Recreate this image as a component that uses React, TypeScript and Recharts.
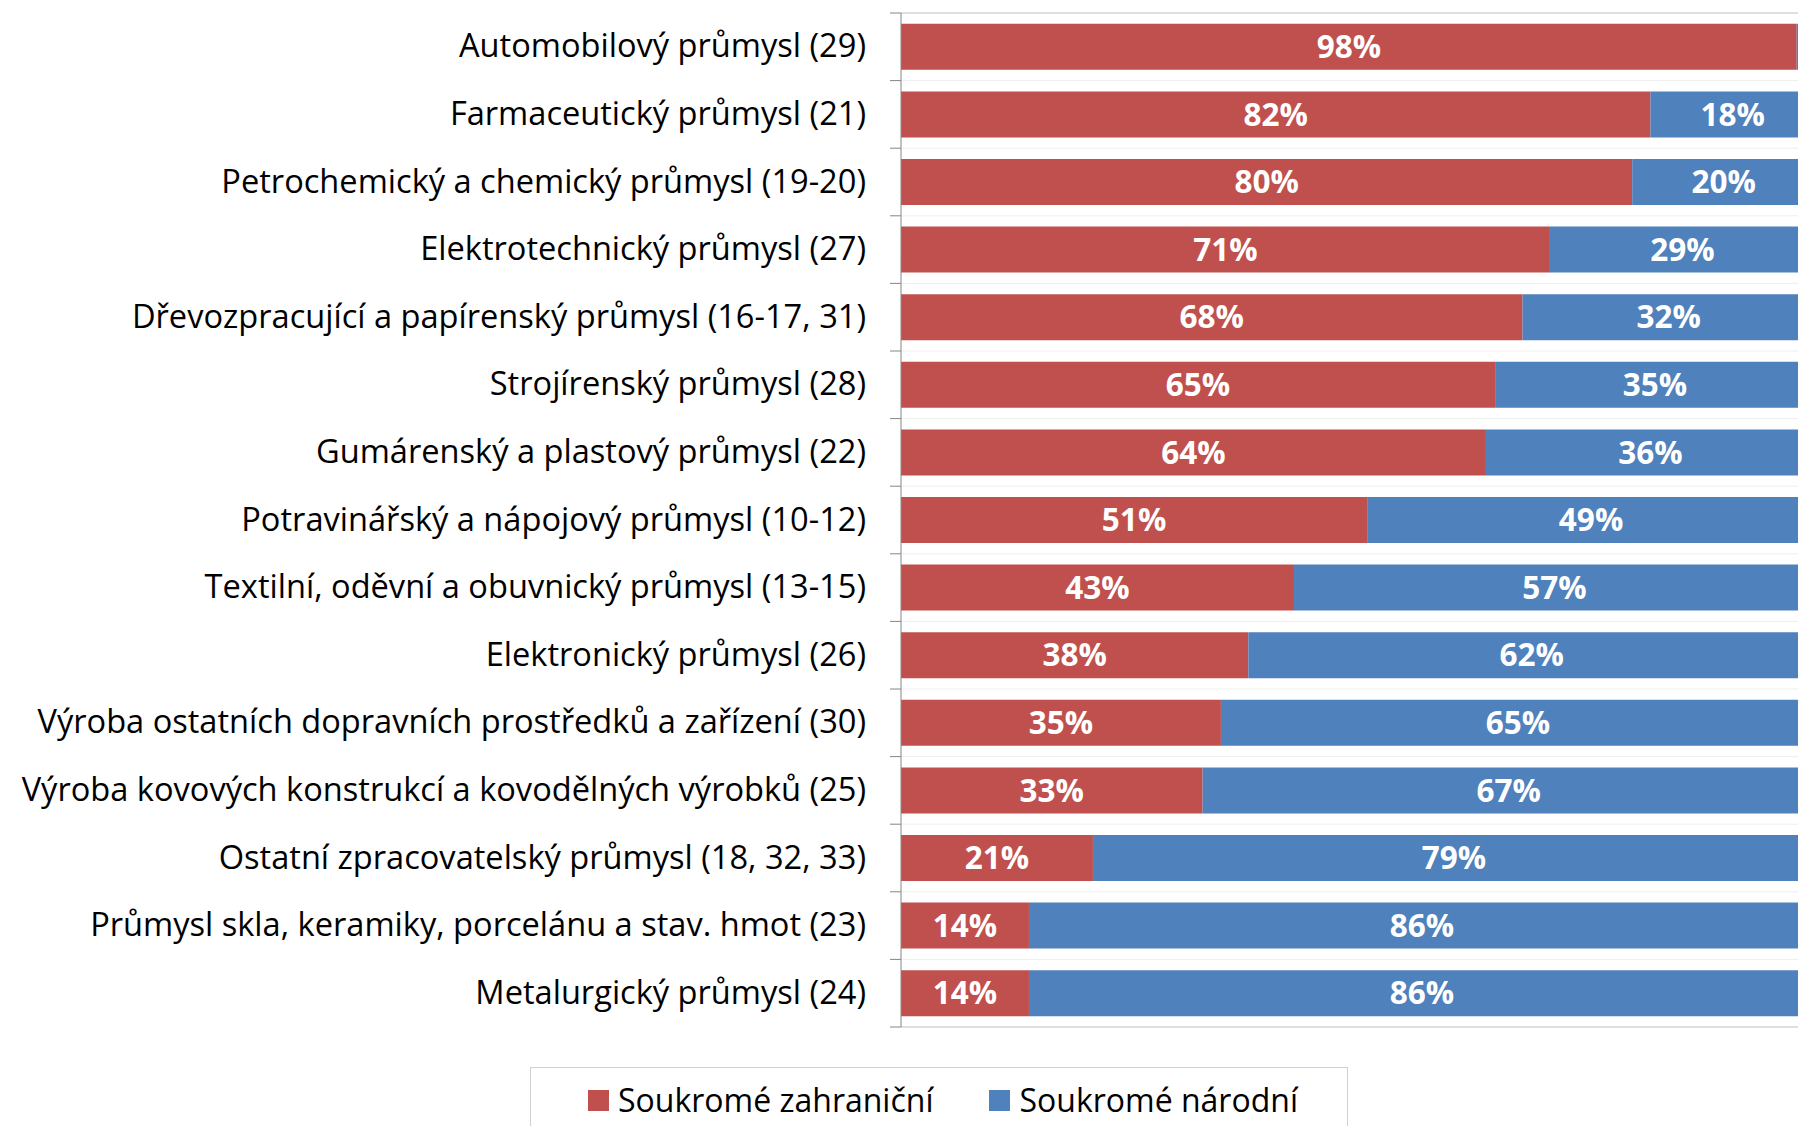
import { BarChart, Bar, XAxis, YAxis, CartesianGrid, LabelList, Legend } from "recharts";

const categories = [
  "Automobilový průmysl (29)",
  "Farmaceutický průmysl (21)",
  "Petrochemický a chemický průmysl (19-20)",
  "Elektrotechnický průmysl (27)",
  "Dřevozpracující a papírenský průmysl (16-17, 31)",
  "Strojírenský průmysl (28)",
  "Gumárenský a plastový průmysl (22)",
  "Potravinářský a nápojový průmysl (10-12)",
  "Textilní, oděvní a obuvnický průmysl (13-15)",
  "Elektronický průmysl (26)",
  "Výroba ostatních dopravních prostředků a zařízení (30)",
  "Výroba kovových konstrukcí a kovodělných výrobků (25)",
  "Ostatní zpracovatelský průmysl (18, 32, 33)",
  "Průmysl skla, keramiky, porcelánu a stav. hmot (23)",
  "Metalurgický průmysl (24)",
];

const foreign = [98, 82, 80, 71, 68, 65, 64, 51, 43, 38, 35, 33, 21, 14, 14];
const domestic = [2, 18, 20, 29, 32, 35, 36, 49, 57, 62, 65, 67, 79, 86, 86];

const seriesNames = ["Soukromé zahraniční", "Soukromé národní"];
const colors = ["#C0504D", "#4F81BD"];

const rows = categories.map((name, i) => ({
  name,
  foreign: foreign[i],
  domestic: domestic[i],
}));

const FONT = "'Open Sans', Lato, sans-serif";
const TICK_SIZE = 32.6;
const LABEL_SIZE = 31.5;
const LEGEND_SIZE = 32;
const CHART_W = 1816;
const CHART_H = 1126;
const LEGEND_H = 80;
// plot spans y 13..1027; the legend height is taken from the bottom by recharts
const MARGIN = { top: 13, right: 1, bottom: 99 - LEGEND_H, left: 0 };
const PLOT_H = 1027 - 13;
const BAND = PLOT_H / categories.length;

function CategoryTick(props: any) {
  const { x, y, payload, index } = props;
  const last = index === categories.length - 1;
  return (
    <g>
      <text
        x={x}
        y={y - 2}
        textAnchor="end"
        dominantBaseline="central"
        fontSize={TICK_SIZE}
        fontFamily={FONT}
        fill="#000"
      >
        {payload.value}
      </text>
      <line x1={x + 24} x2={x + 35} y1={y - BAND / 2} y2={y - BAND / 2} stroke="#868686" />
      {last && (
        <line x1={x + 24} x2={x + 35} y1={y + BAND / 2} y2={y + BAND / 2} stroke="#868686" />
      )}
    </g>
  );
}

function LegendBox() {
  return (
    <div
      style={{
        border: "1px solid #d0d0d0",
        height: LEGEND_H,
        boxSizing: "border-box",
        display: "flex",
        alignItems: "flex-start",
        paddingTop: 13,
        paddingLeft: 57,
        fontFamily: FONT,
        fontSize: LEGEND_SIZE,
        color: "#000",
        whiteSpace: "nowrap",
      }}
    >
      {seriesNames.map((s, i) => (
        <div key={s} style={{ display: "flex", alignItems: "center", marginRight: 56, flexShrink: 0 }}>
          <span
            style={{ width: 21, height: 21, background: colors[i], display: "inline-block", marginRight: 9 }}
          />
          <span style={{ lineHeight: "38px" }}>{s}</span>
        </div>
      ))}
    </div>
  );
}

const pct = (v: any) => (Number(v) >= 5 ? `${v}%` : "");

export default function App() {
  return (
    <div
      style={{
        position: "absolute",
        left: 0,
        top: 0,
        width: 1798,
        height: 1126,
        overflow: "hidden",
        background: "#fff",
      }}
    >
      <BarChart
        width={CHART_W}
        height={CHART_H}
        data={rows}
        layout="vertical"
        margin={MARGIN}
        barCategoryGap="16%"
        style={{ fontFamily: FONT }}
      >
        <CartesianGrid
          vertical={false}
          stroke="#efefef"
          horizontalCoordinatesGenerator={({ offset }: any) =>
            Array.from({ length: categories.length - 1 }, (_, i) => offset.top + ((i + 1) * offset.height) / categories.length)
          }
        />
        <CartesianGrid
          vertical={false}
          stroke="#bfbfbf"
          horizontalCoordinatesGenerator={({ offset }: any) => [offset.top, offset.top + offset.height]}
        />
        <XAxis type="number" domain={[0, 100]} hide />
        <YAxis
          type="category"
          dataKey="name"
          width={901}
          axisLine={{ stroke: "#868686" }}
          tickLine={false}
          tickSize={11}
          tickMargin={24}
          interval={0}
          tick={<CategoryTick />}
        />
        <Legend
          content={<LegendBox />}
          wrapperStyle={{ position: "absolute", top: 1067, left: 530, width: 818, height: LEGEND_H, bottom: "auto" }}
        />
        <Bar dataKey="foreign" name={seriesNames[0]} stackId="a" fill={colors[0]} isAnimationActive={false}>
          <LabelList
            dataKey="foreign"
            position="center"
            formatter={pct}
            fill="#fff"
            fontSize={LABEL_SIZE}
            fontWeight="bold"
            fontFamily={FONT}
          />
        </Bar>
        <Bar dataKey="domestic" name={seriesNames[1]} stackId="a" fill={colors[1]} isAnimationActive={false}>
          <LabelList
            dataKey="domestic"
            position="center"
            formatter={pct}
            fill="#fff"
            fontSize={LABEL_SIZE}
            fontWeight="bold"
            fontFamily={FONT}
          />
        </Bar>
      </BarChart>
    </div>
  );
}
